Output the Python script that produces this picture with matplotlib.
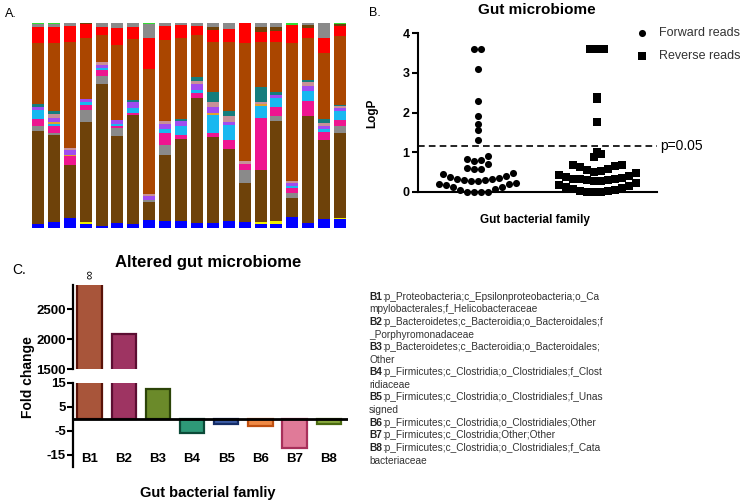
import numpy as np
import matplotlib
matplotlib.use('Agg')
import matplotlib.pyplot as plt
from matplotlib.transforms import blended_transform_factory

plt.rcParams['font.family'] = ['Liberation Sans', 'DejaVu Sans']
plt.rcParams['axes.unicode_minus'] = False

# ---------------- A: relative abundance per sample (%), bottom -> top
blue     = [2.1, 2.8, 4.9, 2.1, 1.1, 2.4, 2.1, 4.1, 3.3, 3.6, 2.4, 2.4, 3.6, 2.8, 2.1, 2.1, 5.4, 2.4, 4.4, 4.4]
yellow   = [0, 0, 0, 0.6, 0, 0, 0, 0, 0, 0, 0, 0, 0, 0, 1.0, 1.5, 0, 0, 0, 0.6]
dk_brown = [45.5, 42.8, 26, 49.3, 69.3, 42.6, 53.2, 8.5, 32.5, 40, 61, 42, 34.6, 18.9, 25, 48.5, 9.3, 52, 38.4, 41.3]
gray     = [2.3, 0.8, 0, 5.7, 3.9, 3.7, 0, 1.3, 4.9, 0, 0, 0, 0, 6.5, 0, 2.4, 2.4, 0, 0, 3.6]
pink     = [3.3, 3.3, 4.1, 2.4, 2.9, 1.1, 0.8, 0, 5.7, 1.6, 2.4, 2, 4.6, 2.8, 25.5, 4.6, 2.4, 7.3, 3.9, 2.9]
cyan     = [4.2, 1.0, 0, 1.6, 0.8, 1.0, 2.4, 0, 2.1, 4.7, 1.3, 8.5, 7.2, 0, 5.7, 4.4, 1.1, 4.9, 1.3, 4.6]
orange   = [0, 1.0, 0.8, 0, 0, 0, 0, 0, 0, 0, 0, 1.3, 0, 0, 1.1, 0, 0, 0, 0, 0]
purple   = [1.6, 2.1, 2.1, 1.1, 1.6, 2.0, 2.8, 1.6, 2.0, 2.1, 3.1, 2.9, 1.6, 0, 0, 1.6, 1.3, 2.8, 1.6, 1.1]
rose     = [0, 2.0, 1.1, 0, 1.1, 0, 0, 1.3, 1.6, 0, 1.3, 2.0, 2.9, 1.6, 1.3, 0, 0.8, 1.6, 1.3, 1.1]
teal     = [1.6, 1.6, 0, 0, 0, 0, 1.3, 0, 0, 1.1, 2.0, 5.2, 2.4, 0, 7.3, 1.1, 0, 1.3, 2.3, 0.5]
or_brown = [29.6, 33.3, 51.5, 29.8, 13.5, 36.3, 29.6, 60.8, 39.8, 39.5, 20.8, 24.4, 33.7, 57.4, 21.5, 24.4, 67.5, 20.3, 31.9, 33.7]
red      = [7.8, 7.5, 8.1, 7.0, 3.7, 8.5, 5.9, 15.1, 6.5, 6.5, 4.4, 5.7, 6.2, 9.8, 4.9, 5.4, 8.9, 4.9, 7.2, 4.9]
dk_top   = [0, 0, 0, 0.5, 0, 0, 0, 0, 0, 0, 0, 1.3, 0, 0, 2.6, 2.1, 0, 1.6, 0, 1.0]
gray_top = [1.6, 1.6, 1.3, 0, 2.0, 2.4, 2.0, 7.0, 1.6, 0.8, 1.3, 2.1, 2.9, 0, 2.0, 2.0, 0, 0.8, 7.5, 0]
green    = [0.5, 0.5, 0, 0, 0, 0, 0, 0.3, 0, 0, 0, 0, 0, 0, 0, 0, 0.8, 0, 0, 0.5]

# ---------------- B: LogP per family
forward_reads = [0.0, 0.0, 0.0, 0.0, 0.05, 0.06, 0.12, 0.13, 0.18, 0.19, 0.20, 0.21,
                 0.28, 0.28, 0.29, 0.30, 0.31, 0.32, 0.34, 0.36, 0.40, 0.44, 0.46,
                 0.58, 0.58, 0.60, 0.70, 0.78, 0.80, 0.82, 0.90, 1.30, 1.55, 1.70,
                 1.92, 2.30, 3.10, 3.60, 3.60]
reverse_reads = [0.0, 0.0, 0.0, 0.02, 0.03, 0.05, 0.07, 0.09, 0.12, 0.15, 0.18, 0.21,
                 0.27, 0.28, 0.29, 0.30, 0.31, 0.32, 0.33, 0.35, 0.37, 0.40, 0.43, 0.46,
                 0.50, 0.52, 0.55, 0.57, 0.63, 0.65, 0.67, 0.68,
                 0.87, 0.95, 1.0, 1.75, 2.35, 2.4, 3.6, 3.6, 3.6]
p_line = 1.15

# ---------------- C: fold change
families = ['B1', 'B2', 'B3', 'B4', 'B5', 'B6', 'B7', 'B8']
fold_change = [np.inf, 2085, 12.3, -6.0, -2.3, -2.9, -12.3, -2.2]
fills = ['#A8553A', '#9E3462', '#6B8A2A', '#2E9978', '#3C5CA6', '#F08A45', '#E07A98', '#8AAA3E']
edges = ['#5A1208', '#5C0E32', '#2C4408', '#0C4A38', '#142C66', '#C05010', '#A8305A', '#4A6A10']
taxa_text = [
    ('B1', ':p_Proteobacteria;c_Epsilonproteobacteria;o_Ca'),
    ('', 'mpylobacterales;f_Helicobacteraceae'),
    ('B2', ':p_Bacteroidetes;c_Bacteroidia;o_Bacteroidales;f'),
    ('', '_Porphyromonadaceae'),
    ('B3', ':p_Bacteroidetes;c_Bacteroidia;o_Bacteroidales;'),
    ('', 'Other'),
    ('B4', ':p_Firmicutes;c_Clostridia;o_Clostridiales;f_Clost'),
    ('', 'ridiaceae'),
    ('B5', ':p_Firmicutes;c_Clostridia;o_Clostridiales;f_Unas'),
    ('', 'signed'),
    ('B6', ':p_Firmicutes;c_Clostridia;o_Clostridiales;Other'),
    ('B7', ':p_Firmicutes;c_Clostridia;Other;Other'),
    ('B8', ':p_Firmicutes;c_Clostridia;o_Clostridiales;f_Cata'),
    ('', 'bacteriaceae'),
]

W, H = 750, 504
fig = plt.figure(figsize=(W / 100, H / 100), dpi=100)


def fx(px):
    return px / W


def fy(py):
    return 1 - py / H


# text layer over the whole figure
axt = fig.add_axes([0, 0, 1, 1])
axt.axis('off')
axt.set_xlim(0, 1)
axt.set_ylim(0, 1)

# ---- panel A
axA = fig.add_axes([fx(30), fy(228), fx(318), 205 / H])
layers = [(blue, '#0000FF'), (yellow, '#F0F000'), (dk_brown, '#6E420A'), (gray, '#8A8A8A'),
          (pink, '#EE1590'), (cyan, '#18B8F0'), (orange, '#E0A030'), (purple, '#A04CF0'),
          (rose, '#C89098'), (teal, '#157D7D'), (or_brown, '#AA4600'), (red, '#FF0000'),
          (dk_top, '#6E420A'), (gray_top, '#8A8A8A'), (green, '#33DD33')]
vals = np.array([l[0] for l in layers], dtype=float)
vals = vals / vals.sum(axis=0) * 100
xs = np.arange(vals.shape[1])
bottom = np.zeros(vals.shape[1])
for v, (_, c) in zip(vals, layers):
    axA.bar(xs, v, bottom=bottom, width=0.75, color=c, linewidth=0)
    bottom += v
axA.set_xlim(-0.5, len(xs) - 0.5)
axA.set_ylim(0, 100)
axA.axis('off')
axt.text(fx(5), fy(14), 'A.', fontsize=9, va='center')


# ---- panel B
def binned_swarm(ax, center, values, bin_h, d_px):
    # prism-style scatter: rows of height bin_h, lowest values in the middle
    values = np.asarray(values, dtype=float)
    dx = d_px * (ax.get_xlim()[1] - ax.get_xlim()[0]) / ax.bbox.width
    out = np.full(len(values), float(center))
    bins = np.floor(values / bin_h + 1e-9).astype(int)
    for b in np.unique(bins):
        idx = np.where(bins == b)[0]
        idx = idx[np.argsort(values[idx], kind='stable')]
        n = len(idx)
        if n % 2:
            offs = [0] + [s * k for k in range(1, n) for s in (-1, 1)]
        else:
            offs = [s * (k - 0.5) for k in range(1, n) for s in (-1, 1)]
        for i, o in zip(idx, offs[:n]):
            out[i] = center + o * dx
    return out


axB = fig.add_axes([fx(418), fy(191.7), fx(239), 158.4 / H])
axB.set_xlim(0.5, 2.5)
axB.set_ylim(0, 4)
for s in ['top', 'right']:
    axB.spines[s].set_visible(False)
for s in ['left', 'bottom']:
    axB.spines[s].set_linewidth(1.5)
axB.set_xticks([])
axB.set_yticks([0, 1, 2, 3, 4])
axB.tick_params(axis='y', length=4, width=1.5, labelsize=9, pad=2)
for lab in axB.get_yticklabels():
    lab.set_fontweight('bold')
xf = binned_swarm(axB, 1, forward_reads, 0.24, 7.0)
xr = binned_swarm(axB, 2, reverse_reads, 0.24, 7.0)
axB.scatter(xf, forward_reads, s=26, marker='o', color='black', linewidths=0,
            clip_on=False, zorder=3, label='Forward reads')
axB.scatter(xr, reverse_reads, s=26, marker='s', color='black', linewidths=0,
            clip_on=False, zorder=3, label='Reverse reads')
axB.axhline(p_line, color='black', lw=1.2, ls=(0, (4, 2.5)))
axB.text(1.012, p_line, 'p=0.05', transform=blended_transform_factory(axB.transAxes, axB.transData),
         fontsize=10, va='center')
axB.legend(loc='upper left', bbox_to_anchor=(fx(636), fy(27)), bbox_transform=fig.transFigure,
           frameon=False, fontsize=9, handlelength=1.0, handletextpad=0.85, labelspacing=0.9,
           borderpad=0, borderaxespad=0, labelcolor='#333333')
axt.text(fx(537), fy(10), 'Gut microbiome', fontsize=11, fontweight='bold', ha='center', va='center')
axt.text(fx(372.5), fy(113), 'LogP', fontsize=8.5, fontweight='bold', rotation=90, ha='center', va='center')
axt.text(fx(535), fy(220), 'Gut bacterial family', fontsize=8.5, fontweight='bold', ha='center', va='center')
axt.text(fx(369), fy(13), 'B.', fontsize=9, va='center')

# ---- panel C (broken y axis)
axU = fig.add_axes([fx(72.7), fy(369), fx(275.6), 84 / H])
axL = fig.add_axes([fx(72.7), fy(466.7), fx(275.6), 84 / H])
xc = np.arange(len(families))
heights = np.where(np.isinf(fold_change), 1e5, fold_change)
for ax in (axU, axL):
    ax.bar(xc, heights, width=0.71, color=fills, edgecolor=edges, linewidth=1.6)
    ax.set_xlim(-0.49, 7.57)
    for s in ['top', 'right', 'bottom']:
        ax.spines[s].set_visible(False)
    ax.spines['left'].set_linewidth(1.6)
    ax.set_xticks([])
    ax.tick_params(axis='y', length=4, width=1.5, labelsize=9.5, pad=1)
axU.set_ylim(1500, 2910)
axU.set_yticks([1500, 2000, 2500])
axL.set_ylim(-20, 15)
axL.set_yticks([-15, -5, 5, 15])
for ax in (axU, axL):
    for lab in ax.get_yticklabels():
        lab.set_fontweight('bold')
axL.axhline(0, color='black', lw=2)
tr = blended_transform_factory(axL.transData, axL.transAxes)
for x, name in zip(xc, families):
    axL.text(x, 0.092, name, transform=tr, ha='center', va='center', fontsize=9.5, fontweight='bold')
tr = blended_transform_factory(axU.transData, axU.transAxes)
for x, v in zip(xc, fold_change):
    if np.isinf(v):
        axU.text(x, 1.12, '∞', transform=tr, rotation=90, ha='center', va='center', fontsize=9)

axt.text(fx(208), fy(262), 'Altered gut microbiome', fontsize=12, fontweight='bold', ha='center', va='center')
axt.text(fx(28), fy(377), 'Fold change', fontsize=10, fontweight='bold', rotation=90, ha='center', va='center')
axt.text(fx(208), fy(493), 'Gut bacterial famliy', fontsize=10.5, fontweight='bold', ha='center', va='center')
axt.text(fx(12), fy(270), 'C.', fontsize=10, va='center')

for i, (tag, rest) in enumerate(taxa_text):
    y = fy(296.7 + i * 12.6)
    if tag:
        t = axt.text(fx(369), y, tag, fontsize=7.3, fontweight='bold', va='center', color='#222222')
        axt.annotate(rest, xy=(1, 0.5), xycoords=t, va='center', ha='left', fontsize=7.3, color='#333333')
    else:
        axt.text(fx(369), y, rest, fontsize=7.3, va='center', color='#333333')

fig.savefig('out.png', dpi=100)
